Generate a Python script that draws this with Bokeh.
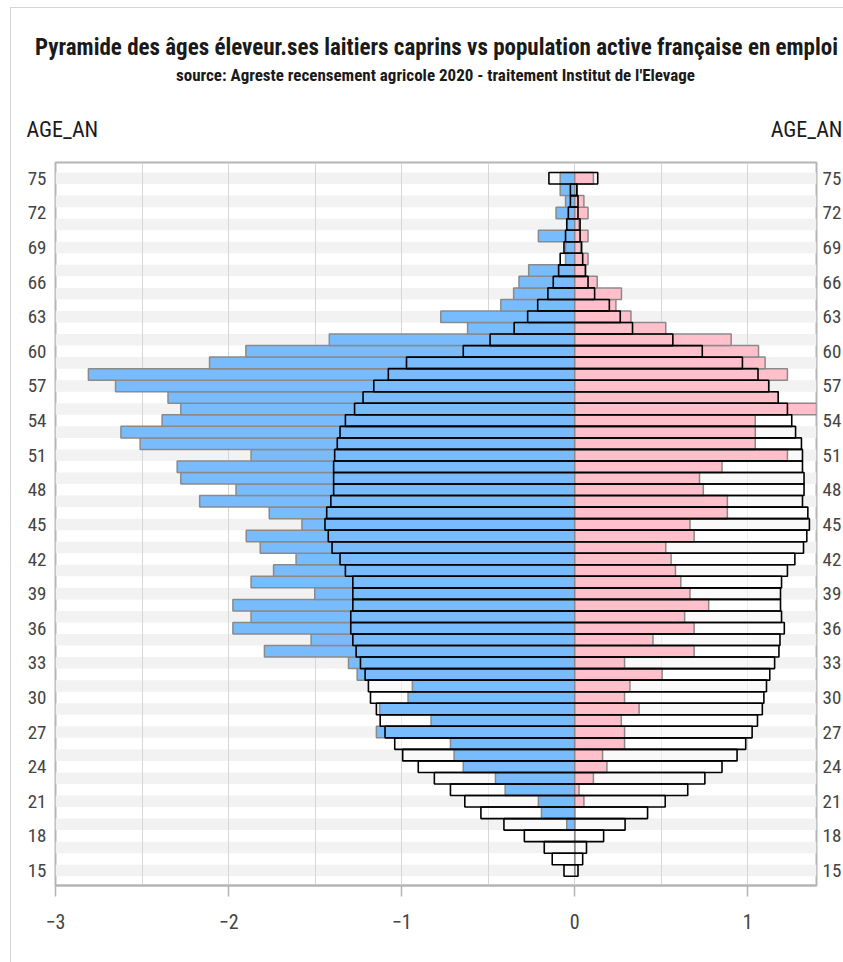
from bokeh.plotting import figure
from bokeh.models import Range1d, FixedTicker, LinearAxis, ColumnDataSource
from bokeh.layouts import column
from bokeh.core.properties import value
from bokeh.embed import file_html
from bokeh.resources import INLINE

ages = list(range(15, 76))

eleveurs_h = [0, 0, 0, 0, -0.046, -0.192, -0.21, -0.402, -0.458, -0.644,
              -0.697, -0.718, -1.146, -0.83, -1.127, -0.963, -0.938, -1.257, -1.307, -1.793,
              -1.523, -1.975, -1.87, -1.975, -1.502, -1.87, -1.74, -1.61, -1.817, -1.898,
              -1.576, -1.765, -2.167, -1.957, -2.276, -2.297, -1.87, -2.511, -2.622, -2.384,
              -2.276, -2.35, -2.653, -2.81, -2.11, -1.90, -1.418, -0.619, -0.774, -0.427,
              -0.353, -0.322, -0.266, -0.053, -0.053, -0.21, -0.046, -0.108, -0.053, -0.084,
              -0.084]
eleveurs_f = [0, 0, 0, 0, 0, 0, 0.053, 0.025, 0.108, 0.186,
              0.161, 0.288, 0.288, 0.269, 0.372, 0.288, 0.319, 0.505, 0.288, 0.69,
              0.452, 0.69, 0.635, 0.774, 0.666, 0.613, 0.582, 0.557, 0.526, 0.69,
              0.666, 0.882, 0.882, 0.743, 0.721, 0.851, 1.229, 1.043, 1.043, 1.043,
              1.40, 1.176, 1.121, 1.229, 1.10, 1.062, 0.904, 0.526, 0.325, 0.238,
              0.27, 0.13, 0.062, 0.077, 0.035, 0.077, 0.025, 0.077, 0.053, 0.015,
              0.108]
pop_h = [-0.062, -0.13, -0.176, -0.291, -0.409, -0.542, -0.635, -0.718, -0.811, -0.904,
         -0.994, -1.04, -1.096, -1.124, -1.146, -1.18, -1.192, -1.211, -1.238, -1.263,
         -1.282, -1.294, -1.294, -1.282, -1.282, -1.282, -1.325, -1.356, -1.402, -1.424,
         -1.443, -1.433, -1.409, -1.393, -1.393, -1.393, -1.387, -1.372, -1.356, -1.325,
         -1.272, -1.223, -1.161, -1.077, -0.972, -0.644, -0.489, -0.35, -0.272, -0.214,
         -0.155, -0.124, -0.093, -0.084, -0.062, -0.053, -0.046, -0.037, -0.025, -0.025,
         -0.149]
pop_f = [0.019, 0.046, 0.068, 0.167, 0.291, 0.421, 0.523, 0.653, 0.752, 0.851,
         0.938, 0.988, 1.025, 1.056, 1.084, 1.093, 1.108, 1.127, 1.155, 1.18,
         1.186, 1.211, 1.195, 1.189, 1.189, 1.195, 1.229, 1.272, 1.322, 1.341,
         1.356, 1.347, 1.316, 1.325, 1.325, 1.316, 1.316, 1.31, 1.276, 1.254,
         1.229, 1.176, 1.121, 1.059, 0.969, 0.737, 0.567, 0.334, 0.263, 0.2,
         0.115, 0.077, 0.062, 0.046, 0.04, 0.031, 0.031, 0.019, 0.019, 0.012,
         0.133]

y_ticks = list(range(15, 76, 3))
x_ticks = [-3, -2, -1, 0, 1]
x_grid = [-3, -2.5, -2, -1.5, -1, -0.5, 0, 0.5, 1]

title_text = "Pyramide des âges éleveur.ses laitiers caprins vs population active française en emploi"
subtitle_text = "source: Agreste recensement agricole 2020 - traitement Institut de l'Elevage"
axis_title = "AGE_AN"

FONT = "Roboto Condensed"
XMIN, XMAX = -3, 1.397
YMIN, YMAX = 13.7, 76.37
W = 843
HEAD_H = 150

# ---------- header ----------
h = figure(width=W, height=HEAD_H, x_range=Range1d(0, W), y_range=Range1d(HEAD_H, 0),
           output_backend="svg", toolbar_location=None, min_border=0,
           background_fill_color=None, border_fill_color=None)
try:
    h.frame_align = False
except Exception:
    pass
h.axis.visible = False
h.grid.visible = False
h.outline_line_color = None
h.text(x=[436], y=[47], text=[title_text], text_font=value(FONT), text_font_style="bold",
       text_font_size="23px", text_color="#1a1a1a", text_align="center", text_baseline="middle")
h.text(x=[435], y=[74], text=[subtitle_text], text_font=value(FONT), text_font_style="bold",
       text_font_size="17px", text_color="#1a1a1a", text_align="center", text_baseline="middle")
h.text(x=[26], y=[129], text=[axis_title], text_font=value(FONT),
       text_font_size="22px", text_color="#1a1a1a", text_align="left", text_baseline="middle")
h.text(x=[842], y=[129], text=[axis_title], text_font=value(FONT),
       text_font_size="22px", text_color="#1a1a1a", text_align="right", text_baseline="middle")

# ---------- main ----------
src = ColumnDataSource(dict(age=ages, eh=eleveurs_h, ef=eleveurs_f, ph=pop_h, pf=pop_f,
                            zero=[0] * len(ages)))
stripe_ages = [a for a in ages if a % 2 == 1]

p = figure(frame_width=761, frame_height=723,
           x_range=Range1d(XMIN, XMAX), y_range=Range1d(YMIN, YMAX),
           output_backend="svg", toolbar_location=None,
           min_border_left=55, min_border_right=27, min_border_top=12, min_border_bottom=77,
           background_fill_color="white", border_fill_color=None)
p.outline_line_color = "#b5b5b5"
p.outline_line_width = 2

p.hbar(y=stripe_ages, left=XMIN, right=XMAX, height=1, fill_color="#f2f2f2", line_color=None, level="underlay")
p.hbar(y="age", left="ph", right="pf", height=1, source=src, fill_color="white", fill_alpha=0.55, line_color=None)
p.hbar(y="age", left="eh", right="zero", height=1, source=src, fill_color="#78bcfd",
       line_color="#8a8a8a", line_width=1.5)
p.hbar(y="age", left="zero", right="ef", height=1, source=src, fill_color="#ffc0cb",
       line_color="#8a8a8a", line_width=1.5)
p.hbar(y="age", left="ph", right="pf", height=1, source=src, fill_color=None,
       line_color="black", line_width=1.6)

p.ygrid.grid_line_color = None
p.xgrid.ticker = FixedTicker(ticks=x_grid)
p.xgrid.grid_line_color = "#d6d6d6"
p.xgrid.grid_line_width = 1

xa = p.xaxis[0]
xa.ticker = FixedTicker(ticks=x_ticks)
xa.axis_line_color = "#b5b5b5"
xa.axis_line_width = 2
xa.major_tick_line_color = "#b5b5b5"
xa.major_tick_line_width = 1.5
xa.major_tick_out = 11
xa.major_tick_in = 0
xa.minor_tick_line_color = None
xa.major_label_text_font = FONT
xa.major_label_text_font_size = "20px"
xa.major_label_text_color = "#444444"
xa.major_label_standoff = 17

def style_y(ax, standoff):
    ax.ticker = FixedTicker(ticks=y_ticks)
    ax.axis_line_color = None
    ax.major_tick_line_color = None
    ax.minor_tick_line_color = None
    ax.major_tick_out = 0
    ax.major_tick_in = 0
    ax.major_label_text_font = FONT
    ax.major_label_text_font_size = "19px"
    ax.major_label_text_color = "#444444"
    ax.major_label_standoff = standoff

style_y(p.yaxis[0], 9)
ry = LinearAxis()
style_y(ry, 6)
p.add_layout(ry, "right")

page_style = {
    "background-color": "white",
    "background-image": "linear-gradient(#d4d4d4, #d4d4d4), linear-gradient(#d4d4d4, #d4d4d4)",
    "background-size": "1px 100%, 100% 1px",
    "background-position": "10px 7px, 10px 7px",
    "background-repeat": "no-repeat",
}
layout = column(h, p, spacing=0, styles=page_style)
open("out.html", "w").write(file_html(layout, INLINE))
